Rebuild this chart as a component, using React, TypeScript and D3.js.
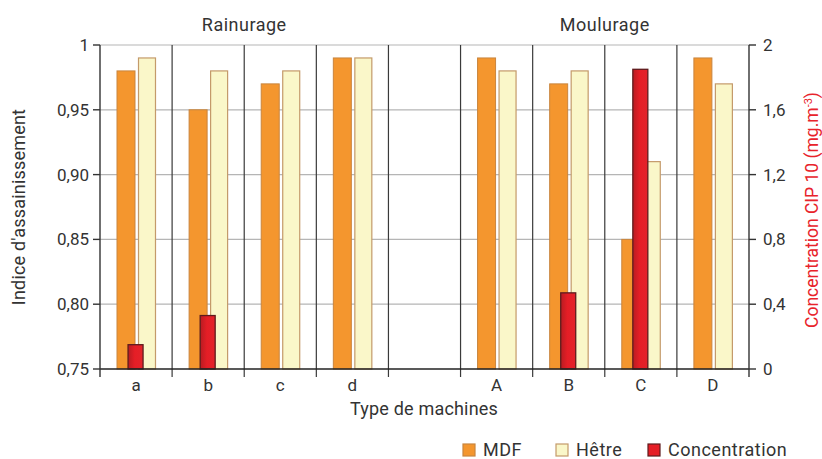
import React from "react";
import * as d3 from "d3";

const categories = ["a", "b", "c", "d", "", "A", "B", "C", "D"];
const mdf = [0.98, 0.95, 0.97, 0.99, null, 0.99, 0.97, 0.85, 0.99];
const hetre = [0.99, 0.98, 0.98, 0.99, null, 0.98, 0.98, 0.91, 0.97];
const concentration = [0.15, 0.33, null, null, null, null, 0.47, 1.85, null];
const leftTicks = [0.75, 0.8, 0.85, 0.9, 0.95, 1];
const rightTicks = [0, 0.4, 0.8, 1.2, 1.6, 2];
const groups = [
  { label: "Rainurage", from: 0, to: 3 },
  { label: "Moulurage", from: 5, to: 8 },
];

const W = 822;
const H = 459;
const left = 100;
const right = 749;
const top = 45;
const bottom = 369;
const font = "Roboto, 'DejaVu Sans', sans-serif";
const txt = "#333";

const fmt = (v: number) => String(v).replace(".", ",");
const fmtLeft = (v: number) => (v === 1 ? "1" : v.toFixed(2).replace(".", ","));

export default function App() {
  const x = d3.scaleBand().domain(categories.map((_, i) => String(i))).range([left, right]).padding(0);
  const yL = d3.scaleLinear().domain([0.75, 1]).range([bottom, top]);
  const yR = d3.scaleLinear().domain([0, 2]).range([bottom, top]);
  const bw = x.bandwidth();

  return (
    <svg width={W} height={H} style={{ position: "absolute", left: 0, top: 0, background: "#fff" }}>
      <defs>
        <linearGradient id="concGrad" x1="0" x2="1" y1="0" y2="0">
          <stop offset="0" stopColor="#b81c22" />
          <stop offset="0.45" stopColor="#e51e26" />
          <stop offset="1" stopColor="#e3232a" />
        </linearGradient>
      </defs>
      {/* grille */}
      {leftTicks.slice(1).map((t) => (
        <line key={t} x1={left} x2={right} y1={yL(t)} y2={yL(t)} stroke="#b5b5b5" strokeWidth={1.2} />
      ))}
      {categories.slice(1).map((_, i) => {
        const xx = x(String(i + 1))!;
        return <line key={i} x1={xx} x2={xx} y1={top} y2={bottom + 8} stroke="#3a3a3a" strokeWidth={1.2} />;
      })}
      {/* barres */}
      {categories.map((c, i) => {
        const x0 = x(String(i))!;
        const cx = x0 + bw / 2;
        return (
          <g key={i}>
            {mdf[i] != null && (
              <rect x={x0 + 17} y={yL(mdf[i]!)} width={18} height={bottom - yL(mdf[i]!)}
                fill="#f4962e" stroke="#c9853e" strokeWidth={1} />
            )}
            {hetre[i] != null && (
              <rect x={x0 + 38.5} y={yL(hetre[i]!)} width={17} height={bottom - yL(hetre[i]!)}
                fill="#faf7c9" stroke="#c49a6a" strokeWidth={1.2} />
            )}
            {concentration[i] != null && (
              <rect x={cx - 8} y={yR(concentration[i]!)} width={15} height={bottom - yR(concentration[i]!)}
                fill="url(#concGrad)" stroke="#5e1b1d" strokeWidth={1.3} />
            )}
            <text x={cx} y={bottom + 22} textAnchor="middle" fontFamily={font} fontSize={17} fill={txt}>{c}</text>
          </g>
        );
      })}
      {/* axes */}
      <line x1={left} x2={right} y1={bottom} y2={bottom} stroke="#222" strokeWidth={1.5} />
      <line x1={left} x2={left} y1={top} y2={bottom + 8} stroke="#333" strokeWidth={1.4} />
      <line x1={right} x2={right} y1={top} y2={bottom + 8} stroke="#333" strokeWidth={1.4} />
      {leftTicks.map((t) => (
        <g key={t}>
          <line x1={left - 7} x2={left} y1={yL(t)} y2={yL(t)} stroke="#333" strokeWidth={1.4} />
          <text x={left - 11} y={yL(t) + 6} textAnchor="end" fontFamily={font} fontSize={17} fill={txt}>{fmtLeft(t)}</text>
        </g>
      ))}
      {rightTicks.map((t) => (
        <g key={t}>
          <line x1={right} x2={right + 7} y1={yR(t)} y2={yR(t)} stroke="#333" strokeWidth={1.4} />
          <text x={right + 14} y={yR(t) + 6} textAnchor="start" fontFamily={font} fontSize={17} fill={txt}>{fmt(t)}</text>
        </g>
      ))}
      {groups.map((g) => {
        const cx = (x(String(g.from))! + x(String(g.to))! + bw) / 2;
        return (
          <text key={g.label} x={cx} y={31} textAnchor="middle" fontFamily={font} fontSize={18}
            letterSpacing={0.5} fill={txt}>{g.label}</text>
        );
      })}
      <text x={424} y={415} textAnchor="middle" fontFamily={font} fontSize={18} letterSpacing={0.2} fill={txt}>Type de machines</text>
      <text transform={`translate(25,207) rotate(-90)`} textAnchor="middle"
        fontFamily={font} fontSize={18} letterSpacing={0.2} fill={txt}>Indice d'assainissement</text>
      <text transform={`translate(818,210) rotate(-90)`} textAnchor="middle"
        fontFamily={font} fontSize={17.5} fill="#e8232b">
        Concentration CIP 10 (mg.m<tspan dy={-6} fontSize={11}>-3</tspan><tspan dy={6}>)</tspan>
      </text>
      {/* légende */}
      {[
        { label: "MDF", fill: "#f4962e", stroke: "#c9853e", x: 463 },
        { label: "Hêtre", fill: "#faf7c9", stroke: "#c49a6a", x: 556 },
        { label: "Concentration", fill: "#e51e26", stroke: "#5e1b1d", x: 648 },
      ].map((l) => (
        <g key={l.label}>
          <rect x={l.x} y={444} width={12} height={12} fill={l.fill} stroke={l.stroke} strokeWidth={1.2} />
          <text x={l.x + 20} y={456} fontFamily={font} fontSize={18} letterSpacing={0.5} fill={txt}>{l.label}</text>
        </g>
      ))}
    </svg>
  );
}
